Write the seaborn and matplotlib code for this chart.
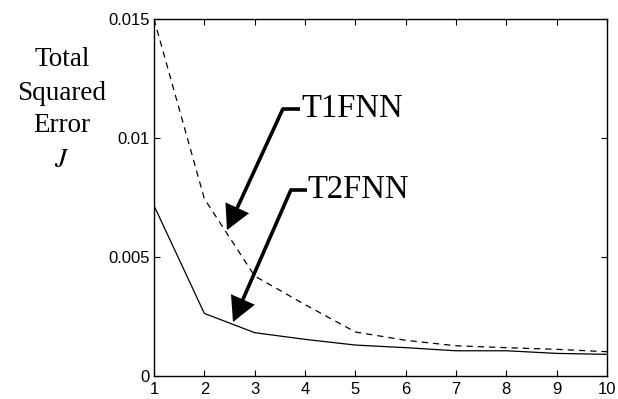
import matplotlib
matplotlib.use("Agg")
import matplotlib.pyplot as plt
import seaborn as sns
import pandas as pd

# Training epochs and total squared error for the two networks
epochs = [1, 2, 3, 4, 5, 6, 7, 8, 9, 10]
t1fnn_error = [0.0150, 0.00745, 0.00420, 0.00300, 0.00185, 0.00150, 0.00127, 0.00119, 0.00112, 0.00102]
t2fnn_error = [0.00716, 0.00263, 0.00182, 0.00154, 0.00130, 0.00119, 0.00106, 0.00106, 0.00095, 0.00091]

y_ticks = [0, 0.005, 0.01, 0.015]
y_tick_labels = ["0", "0.005", "0.01", "0.015"]

df = pd.DataFrame({
    "epoch": epochs * 2,
    "error": t1fnn_error + t2fnn_error,
    "model": ["T1FNN"] * len(epochs) + ["T2FNN"] * len(epochs),
})

sns.set_style("white")
plt.rcParams["font.family"] = ["Liberation Sans", "DejaVu Sans"]
plt.rcParams["text.color"] = "black"

fig = plt.figure(figsize=(6.18, 3.99), dpi=100)
ax = fig.add_axes([154 / 618, 1 - 376 / 399, (607 - 154) / 618, (376 - 19) / 399])

sns.lineplot(data=df, x="epoch", y="error", style="model",
             style_order=["T1FNN", "T2FNN"],
             dashes={"T1FNN": (5, 4), "T2FNN": ""},
             color="black", linewidth=0.9, legend=False, ax=ax)

ax.set_xlim(1, 10)
ax.set_ylim(0, 0.015)
ax.set_xticks(epochs)
ax.set_xticklabels([str(e) for e in epochs])
ax.set_yticks(y_ticks)
ax.set_yticklabels(y_tick_labels)
ax.set_xlabel("")
ax.set_ylabel("")

for s in ax.spines.values():
    s.set_visible(True)
    s.set_color("black")
    s.set_linewidth(1.0)

ax.tick_params(direction="in", length=4, width=0.8, labelsize=12,
               top=True, right=True, bottom=True, left=True,
               labeltop=False, labelright=False, colors="black")
ax.tick_params(axis="x", pad=4)
ax.tick_params(axis="y", pad=3)

serif = ["Liberation Serif", "DejaVu Serif"]

# Axis title placed to the left, as stacked lines
for text, ypix in [("Total", 60), ("Squared", 93), ("Error", 126)]:
    fig.text(62 / 618, 1 - ypix / 399, text, ha="center", va="center",
             fontsize=19.5, family=serif, color="black")
fig.text(62 / 618, 1 - 160 / 399, "$J$", ha="center", va="center",
         fontsize=19.5, color="black", math_fontfamily="stix")

arrow = dict(arrowstyle="-|>,head_length=0.85,head_width=0.45",
             mutation_scale=16, color="black", lw=2.6,
             joinstyle="miter", shrinkA=0, shrinkB=0)

# Callouts with an elbow leader line
for label, tip, elbow, text_x in [
    ("T1FNN", (2.45, 0.00613), (3.56, 0.01122), 3.92),
    ("T2FNN", (2.57, 0.00227), (3.72, 0.00782), 4.05),
]:
    ax.plot([elbow[0], text_x - 0.02], [elbow[1], elbow[1]], color="black",
            lw=2.6, solid_capstyle="butt")
    ax.annotate("", xy=tip, xytext=elbow, arrowprops=arrow)
    ax.text(text_x, elbow[1], label, ha="left", va="center",
            fontsize=23.5, family=serif, color="black")

fig.savefig("out.png", dpi=100, facecolor="white")
